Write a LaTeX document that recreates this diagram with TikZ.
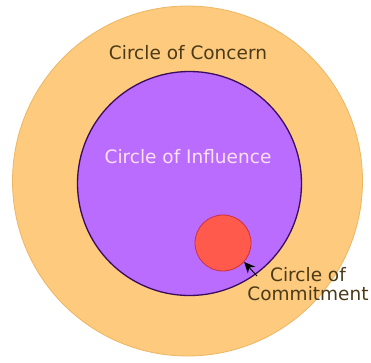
\documentclass[tikz,border=0pt]{standalone}
\usepackage{fontspec}
\setmainfont{DejaVu Sans}
\usepackage{xcolor}
\usepackage{tikz}
\usetikzlibrary{arrows.meta,positioning}
\definecolor{concernfill}{HTML}{FDCA7E}
\definecolor{concernline}{HTML}{EDB662}
\definecolor{influencefill}{HTML}{BA6CFF}
\definecolor{influenceline}{HTML}{3A0C5C}
\definecolor{commitfill}{HTML}{FF5A4C}
\definecolor{commitline}{HTML}{CC3040}
\definecolor{labeltext}{HTML}{4A3A18}

\begin{document}
\begin{tikzpicture}[x=1pt, y=1pt, every node/.style={font=\fontsize{18.5}{18.5}\selectfont}, ring/.style={circle,inner sep=0pt,line width=0.8pt}, lbl/.style={text=labeltext,align=center,inner sep=0pt}, arr/.style={-{Stealth[length=11pt,width=10pt]},line width=0.9pt}]
\useasboundingbox (0,0) rectangle (371,362);
\node[ring,draw=concernline,fill=concernfill,minimum size=350pt] (concern) at (187.5,181) {};
\node[ring,draw=influenceline,fill=influencefill,minimum size=224pt,line width=1.3pt] (influence) at (189.5,178.5) {};
\node[ring,draw=commitline,fill=commitfill,minimum size=56pt] (commit) at (223,119) {};
\node[lbl] (concerntext) at (188,309) {Circle of Concern};
\node[lbl,text=white!88!magenta] (influencetext) at (188,205) {Circle of Influence};
\node[lbl] (committext) at (308,78) {Circle of\\Commitment};
\coordinate (tail) at (257,86);
\draw[arr] (tail) -- (commit.-42);
\end{tikzpicture}
\end{document}
